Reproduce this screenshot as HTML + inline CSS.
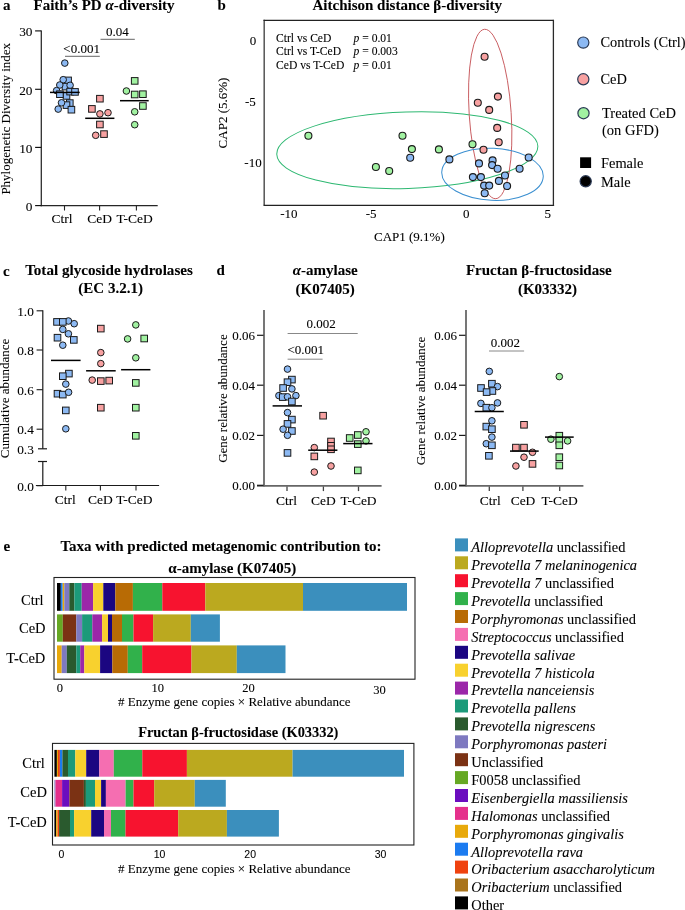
<!DOCTYPE html>
<html><head><meta charset="utf-8"><style>
html,body{margin:0;padding:0;background:#fff;width:685px;height:910px;overflow:hidden}
svg{display:block;will-change:transform}
text{fill:#000;stroke:#000;stroke-width:0.08px}
</style></head><body>
<svg width="685" height="910" viewBox="0 0 685 910">
<rect width="685" height="910" fill="#fff"/>
<text x="3" y="10.4" font-size="15" text-anchor="start" font-weight="bold" font-style="normal" font-family='"Liberation Serif", serif' >a</text>
<text x="33.5" y="10.4" font-size="15" text-anchor="start" font-weight="bold" font-style="normal" font-family='"Liberation Serif", serif' >Faith’s PD <tspan font-style="italic">α</tspan>-diversity</text>
<line x1="41.3" y1="30.4" x2="41.3" y2="206.2" stroke="#262626" stroke-width="1.25"/>
<line x1="40.699999999999996" y1="205.6" x2="157.7" y2="205.6" stroke="#262626" stroke-width="1.25"/>
<line x1="35.1" y1="30.9" x2="41.3" y2="30.9" stroke="#111" stroke-width="1.15"/>
<text x="32.5" y="36.199999999999996" font-size="13.3" text-anchor="end" font-weight="normal" font-style="normal" font-family='"Liberation Serif", serif' >30</text>
<line x1="35.1" y1="89.3" x2="41.3" y2="89.3" stroke="#111" stroke-width="1.15"/>
<text x="32.5" y="94.6" font-size="13.3" text-anchor="end" font-weight="normal" font-style="normal" font-family='"Liberation Serif", serif' >20</text>
<line x1="35.1" y1="147.4" x2="41.3" y2="147.4" stroke="#111" stroke-width="1.15"/>
<text x="32.5" y="152.70000000000002" font-size="13.3" text-anchor="end" font-weight="normal" font-style="normal" font-family='"Liberation Serif", serif' >10</text>
<line x1="35.1" y1="205.6" x2="41.3" y2="205.6" stroke="#111" stroke-width="1.15"/>
<text x="32.5" y="210.9" font-size="13.3" text-anchor="end" font-weight="normal" font-style="normal" font-family='"Liberation Serif", serif' >0</text>
<line x1="64.5" y1="205.6" x2="64.5" y2="210.5" stroke="#222" stroke-width="1.1"/>
<line x1="99.6" y1="205.6" x2="99.6" y2="210.5" stroke="#222" stroke-width="1.1"/>
<line x1="136.4" y1="205.6" x2="136.4" y2="210.5" stroke="#222" stroke-width="1.1"/>
<text x="61.9" y="223.3" font-size="13.5" text-anchor="middle" font-weight="normal" font-style="normal" font-family='"Liberation Serif", serif' >Ctrl</text>
<text x="99.6" y="223.3" font-size="13.5" text-anchor="middle" font-weight="normal" font-style="normal" font-family='"Liberation Serif", serif' >CeD</text>
<text x="134.6" y="223.3" font-size="13.5" text-anchor="middle" font-weight="normal" font-style="normal" font-family='"Liberation Serif", serif' >T-CeD</text>
<text x="0" y="0" font-size="13" text-anchor="middle" font-weight="normal" font-style="normal" font-family='"Liberation Serif", serif' transform="translate(10.2,118.8) rotate(-90)">Phylogenetic Diversity index</text>
<line x1="65" y1="56.3" x2="99.8" y2="56.3" stroke="#666" stroke-width="1"/>
<text x="81.6" y="52.6" font-size="13" text-anchor="middle" font-weight="normal" font-style="normal" font-family='"Liberation Serif", serif' >&lt;0.001</text>
<line x1="100.5" y1="39.3" x2="134.8" y2="39.3" stroke="#666" stroke-width="1"/>
<text x="117.4" y="35.7" font-size="13" text-anchor="middle" font-weight="normal" font-style="normal" font-family='"Liberation Serif", serif' >0.04</text>
<rect x="64.80" y="77.10" width="6.6" height="6.6" fill="#8cb9f3" stroke="#1a1a1a" stroke-width="1.0"/>
<rect x="62.20" y="83.30" width="6.6" height="6.6" fill="#8cb9f3" stroke="#1a1a1a" stroke-width="1.0"/>
<rect x="63.20" y="92.60" width="6.6" height="6.6" fill="#8cb9f3" stroke="#1a1a1a" stroke-width="1.0"/>
<rect x="66.50" y="99.80" width="6.6" height="6.6" fill="#8cb9f3" stroke="#1a1a1a" stroke-width="1.0"/>
<rect x="63.20" y="101.80" width="6.6" height="6.6" fill="#8cb9f3" stroke="#1a1a1a" stroke-width="1.0"/>
<circle cx="64.8" cy="63.1" r="3.3" fill="#8cb9f3" stroke="#1a1a1a" stroke-width="1.0"/>
<circle cx="63.2" cy="79.7" r="3.3" fill="#8cb9f3" stroke="#1a1a1a" stroke-width="1.0"/>
<circle cx="59.8" cy="85.0" r="3.3" fill="#8cb9f3" stroke="#1a1a1a" stroke-width="1.0"/>
<circle cx="70.1" cy="85.3" r="3.3" fill="#8cb9f3" stroke="#1a1a1a" stroke-width="1.0"/>
<circle cx="56.6" cy="90.6" r="3.3" fill="#8cb9f3" stroke="#1a1a1a" stroke-width="1.0"/>
<rect x="56.60" y="90.90" width="6.6" height="6.6" fill="#8cb9f3" stroke="#1a1a1a" stroke-width="1.0"/>
<rect x="66.80" y="88.30" width="6.6" height="6.6" fill="#8cb9f3" stroke="#1a1a1a" stroke-width="1.0"/>
<rect x="71.70" y="88.60" width="6.6" height="6.6" fill="#8cb9f3" stroke="#1a1a1a" stroke-width="1.0"/>
<circle cx="61.5" cy="102.8" r="3.3" fill="#8cb9f3" stroke="#1a1a1a" stroke-width="1.0"/>
<circle cx="58.2" cy="109.1" r="3.3" fill="#8cb9f3" stroke="#1a1a1a" stroke-width="1.0"/>
<rect x="68.10" y="106.40" width="6.6" height="6.6" fill="#8cb9f3" stroke="#1a1a1a" stroke-width="1.0"/>
<line x1="50" y1="92.4" x2="79.7" y2="92.4" stroke="#000" stroke-width="1.5"/>
<rect x="96.60" y="95.40" width="6.6" height="6.6" fill="#f7a1a1" stroke="#1a1a1a" stroke-width="1.0"/>
<rect x="88.60" y="105.60" width="6.6" height="6.6" fill="#f7a1a1" stroke="#1a1a1a" stroke-width="1.0"/>
<circle cx="99.9" cy="113.9" r="3.3" fill="#f7a1a1" stroke="#1a1a1a" stroke-width="1.0"/>
<circle cx="108.0" cy="112.7" r="3.3" fill="#f7a1a1" stroke="#1a1a1a" stroke-width="1.0"/>
<rect x="96.60" y="121.20" width="6.6" height="6.6" fill="#f7a1a1" stroke="#1a1a1a" stroke-width="1.0"/>
<circle cx="95.7" cy="135.3" r="3.3" fill="#f7a1a1" stroke="#1a1a1a" stroke-width="1.0"/>
<rect x="100.70" y="130.80" width="6.6" height="6.6" fill="#f7a1a1" stroke="#1a1a1a" stroke-width="1.0"/>
<line x1="85.2" y1="118.3" x2="114.4" y2="118.3" stroke="#000" stroke-width="1.5"/>
<rect x="131.40" y="77.60" width="6.6" height="6.6" fill="#a1f2a1" stroke="#1a1a1a" stroke-width="1.0"/>
<circle cx="126.4" cy="91.0" r="3.3" fill="#a1f2a1" stroke="#1a1a1a" stroke-width="1.0"/>
<rect x="131.40" y="91.20" width="6.6" height="6.6" fill="#a1f2a1" stroke="#1a1a1a" stroke-width="1.0"/>
<rect x="139.60" y="90.90" width="6.6" height="6.6" fill="#a1f2a1" stroke="#1a1a1a" stroke-width="1.0"/>
<rect x="139.60" y="102.70" width="6.6" height="6.6" fill="#a1f2a1" stroke="#1a1a1a" stroke-width="1.0"/>
<circle cx="134.7" cy="111.8" r="3.3" fill="#a1f2a1" stroke="#1a1a1a" stroke-width="1.0"/>
<circle cx="134.7" cy="124.7" r="3.3" fill="#a1f2a1" stroke="#1a1a1a" stroke-width="1.0"/>
<line x1="120" y1="100.7" x2="148.7" y2="100.7" stroke="#000" stroke-width="1.5"/>
<text x="217.4" y="10.2" font-size="15" text-anchor="start" font-weight="bold" font-style="normal" font-family='"Liberation Serif", serif' >b</text>
<text x="312.5" y="10.2" font-size="15" text-anchor="start" font-weight="bold" font-style="normal" font-family='"Liberation Serif", serif' >Aitchison distance <tspan>β</tspan>-diversity</text>
<rect x="264" y="20.2" width="289.5" height="85" fill="none" stroke="#222" stroke-width="1.1" style="display:none"/>
<line x1="264.2" y1="19.8" x2="264.2" y2="205.3" stroke="#555" stroke-width="1.5"/>
<line x1="263.5" y1="205.3" x2="554.1" y2="205.3" stroke="#222" stroke-width="1.3"/>
<line x1="263.5" y1="20.4" x2="553.7" y2="20.4" stroke="#222" stroke-width="1.2"/>
<line x1="553.4" y1="19.8" x2="553.4" y2="205.9" stroke="#2a2a2a" stroke-width="1.3"/>
<text x="276" y="41.5" font-size="11.6" text-anchor="start" font-weight="normal" font-style="normal" font-family='"Liberation Serif", serif' >Ctrl vs CeD</text>
<text x="276" y="55.2" font-size="11.6" text-anchor="start" font-weight="normal" font-style="normal" font-family='"Liberation Serif", serif' >Ctrl vs T-CeD</text>
<text x="276" y="68.8" font-size="11.6" text-anchor="start" font-weight="normal" font-style="normal" font-family='"Liberation Serif", serif' >CeD vs T-CeD</text>
<text x="353.5" y="41.5" font-size="11.6" text-anchor="start" font-weight="normal" font-style="normal" font-family='"Liberation Serif", serif' ><tspan font-style="italic">p</tspan> = 0.01</text>
<text x="353.5" y="55.2" font-size="11.6" text-anchor="start" font-weight="normal" font-style="normal" font-family='"Liberation Serif", serif' ><tspan font-style="italic">p</tspan> = 0.003</text>
<text x="353.5" y="68.8" font-size="11.6" text-anchor="start" font-weight="normal" font-style="normal" font-family='"Liberation Serif", serif' ><tspan font-style="italic">p</tspan> = 0.01</text>
<text x="253" y="45.099999999999994" font-size="13" text-anchor="middle" font-weight="normal" font-style="normal" font-family='"Liberation Serif", serif' >0</text>
<text x="250.3" y="105.7" font-size="13" text-anchor="middle" font-weight="normal" font-style="normal" font-family='"Liberation Serif", serif' >-5</text>
<text x="253" y="167.3" font-size="13" text-anchor="middle" font-weight="normal" font-style="normal" font-family='"Liberation Serif", serif' >-10</text>
<text x="288.8" y="218.4" font-size="13" text-anchor="middle" font-weight="normal" font-style="normal" font-family='"Liberation Serif", serif' >-10</text>
<text x="371.2" y="218.4" font-size="13" text-anchor="middle" font-weight="normal" font-style="normal" font-family='"Liberation Serif", serif' >-5</text>
<text x="466.2" y="218.4" font-size="13" text-anchor="middle" font-weight="normal" font-style="normal" font-family='"Liberation Serif", serif' >0</text>
<text x="547.7" y="218.4" font-size="13" text-anchor="middle" font-weight="normal" font-style="normal" font-family='"Liberation Serif", serif' >5</text>
<text x="409.4" y="240.5" font-size="13" text-anchor="middle" font-weight="normal" font-style="normal" font-family='"Liberation Serif", serif' >CAP1 (9.1%)</text>
<text x="0" y="0" font-size="13" text-anchor="middle" font-weight="normal" font-style="normal" font-family='"Liberation Serif", serif' transform="translate(226.9,113) rotate(-90)">CAP2 (5.6%)</text>
<ellipse cx="407.3" cy="150.2" rx="130.6" ry="38.2" transform="rotate(-1.8 407.3 150.2)" fill="none" stroke="#2eb872" stroke-width="1"/>
<ellipse cx="490.2" cy="114" rx="21" ry="84.9" transform="rotate(-3.8 490.2 114)" fill="none" stroke="#c85a5e" stroke-width="0.95"/>
<ellipse cx="492.5" cy="174.3" rx="50.8" ry="26" transform="rotate(2.6 492.5 174.3)" fill="none" stroke="#3a8fd0" stroke-width="1"/>
<circle cx="308.4" cy="135.7" r="3.5" fill="#a1f2a1" stroke="#1a1a1a" stroke-width="1.1"/>
<circle cx="402.5" cy="135.7" r="3.5" fill="#a1f2a1" stroke="#1a1a1a" stroke-width="1.1"/>
<circle cx="411.9" cy="149.1" r="3.5" fill="#a1f2a1" stroke="#1a1a1a" stroke-width="1.1"/>
<circle cx="375.9" cy="167.0" r="3.5" fill="#a1f2a1" stroke="#1a1a1a" stroke-width="1.1"/>
<circle cx="389.2" cy="171.0" r="3.5" fill="#a1f2a1" stroke="#1a1a1a" stroke-width="1.1"/>
<circle cx="438.9" cy="149.4" r="3.5" fill="#a1f2a1" stroke="#1a1a1a" stroke-width="1.1"/>
<circle cx="472.5" cy="144.2" r="3.5" fill="#a1f2a1" stroke="#1a1a1a" stroke-width="1.1"/>
<circle cx="484.6" cy="56.7" r="3.5" fill="#f7a1a1" stroke="#1a1a1a" stroke-width="1.1"/>
<circle cx="497.9" cy="96.6" r="3.5" fill="#f7a1a1" stroke="#1a1a1a" stroke-width="1.1"/>
<circle cx="477.8" cy="102.7" r="3.5" fill="#f7a1a1" stroke="#1a1a1a" stroke-width="1.1"/>
<circle cx="489.2" cy="109.9" r="3.5" fill="#f7a1a1" stroke="#1a1a1a" stroke-width="1.1"/>
<circle cx="497.2" cy="127.9" r="3.5" fill="#f7a1a1" stroke="#1a1a1a" stroke-width="1.1"/>
<circle cx="498.7" cy="142.3" r="3.5" fill="#f7a1a1" stroke="#1a1a1a" stroke-width="1.1"/>
<circle cx="483.5" cy="149.7" r="3.5" fill="#f7a1a1" stroke="#1a1a1a" stroke-width="1.1"/>
<circle cx="410.2" cy="157.7" r="3.5" fill="#8cb9f3" stroke="#1a1a1a" stroke-width="1.1"/>
<circle cx="449.4" cy="159.4" r="3.5" fill="#8cb9f3" stroke="#1a1a1a" stroke-width="1.1"/>
<circle cx="479.0" cy="163.4" r="3.5" fill="#8cb9f3" stroke="#1a1a1a" stroke-width="1.1"/>
<circle cx="492.6" cy="160.4" r="3.5" fill="#8cb9f3" stroke="#1a1a1a" stroke-width="1.1"/>
<circle cx="492.1" cy="165.1" r="3.5" fill="#8cb9f3" stroke="#1a1a1a" stroke-width="1.1"/>
<circle cx="497.6" cy="168.7" r="3.5" fill="#8cb9f3" stroke="#1a1a1a" stroke-width="1.1"/>
<circle cx="519.6" cy="168.7" r="3.5" fill="#8cb9f3" stroke="#1a1a1a" stroke-width="1.1"/>
<circle cx="528.7" cy="157.5" r="3.5" fill="#8cb9f3" stroke="#1a1a1a" stroke-width="1.1"/>
<circle cx="472.9" cy="177.1" r="3.5" fill="#8cb9f3" stroke="#1a1a1a" stroke-width="1.1"/>
<circle cx="480.9" cy="177.1" r="3.5" fill="#8cb9f3" stroke="#1a1a1a" stroke-width="1.1"/>
<circle cx="505.0" cy="175.5" r="3.5" fill="#8cb9f3" stroke="#1a1a1a" stroke-width="1.1"/>
<circle cx="498.9" cy="180.9" r="3.5" fill="#8cb9f3" stroke="#1a1a1a" stroke-width="1.1"/>
<circle cx="484.1" cy="185.6" r="3.5" fill="#8cb9f3" stroke="#1a1a1a" stroke-width="1.1"/>
<circle cx="489.2" cy="185.6" r="3.5" fill="#8cb9f3" stroke="#1a1a1a" stroke-width="1.1"/>
<circle cx="507.1" cy="186.0" r="3.5" fill="#8cb9f3" stroke="#1a1a1a" stroke-width="1.1"/>
<circle cx="484.7" cy="193.2" r="3.5" fill="#8cb9f3" stroke="#1a1a1a" stroke-width="1.1"/>
<circle cx="583.3" cy="42.6" r="5.6" fill="#8cb9f3" stroke="#2b3a55" stroke-width="1.2"/>
<circle cx="583.3" cy="79.3" r="5.6" fill="#f7a1a1" stroke="#2b3a55" stroke-width="1.2"/>
<circle cx="583.5" cy="113.2" r="5.6" fill="#a1f2a1" stroke="#2b3a55" stroke-width="1.2"/>
<text x="600.5" y="47.1" font-size="14.4" text-anchor="start" font-weight="normal" font-style="normal" font-family='"Liberation Serif", serif' >Controls (Ctrl)</text>
<text x="600.5" y="83.9" font-size="14.4" text-anchor="start" font-weight="normal" font-style="normal" font-family='"Liberation Serif", serif' >CeD</text>
<text x="602" y="118" font-size="14.5" text-anchor="start" font-weight="normal" font-style="normal" font-family='"Liberation Serif", serif' >Treated CeD</text>
<text x="602" y="135.2" font-size="14.5" text-anchor="start" font-weight="normal" font-style="normal" font-family='"Liberation Serif", serif' >(on GFD)</text>
<rect x="580.1" y="157.3" width="11" height="10.7" fill="#000"/>
<circle cx="585.7" cy="181.3" r="5.6" fill="#000" stroke="#2b3a55" stroke-width="1.2"/>
<text x="601" y="168.4" font-size="14.4" text-anchor="start" font-weight="normal" font-style="normal" font-family='"Liberation Serif", serif' >Female</text>
<text x="601" y="186.6" font-size="14.4" text-anchor="start" font-weight="normal" font-style="normal" font-family='"Liberation Serif", serif' >Male</text>
<text x="3" y="275.7" font-size="15" text-anchor="start" font-weight="bold" font-style="normal" font-family='"Liberation Serif", serif' >c</text>
<text x="109.0" y="275.3" font-size="15.1" text-anchor="middle" font-weight="bold" font-style="normal" font-family='"Liberation Serif", serif' >Total glycoside hydrolases</text>
<text x="110.6" y="293.2" font-size="15" text-anchor="middle" font-weight="bold" font-style="normal" font-family='"Liberation Serif", serif' >(EC 3.2.1)</text>
<line x1="42.8" y1="310.3" x2="42.8" y2="448.8" stroke="#1a1a1a" stroke-width="1.2"/>
<line x1="42.8" y1="461.5" x2="42.8" y2="485.7" stroke="#1a1a1a" stroke-width="1.2"/>
<line x1="35.9" y1="485.5" x2="159.1" y2="485.5" stroke="#1a1a1a" stroke-width="1.2"/>
<line x1="38" y1="448.8" x2="47" y2="448.8" stroke="#1a1a1a" stroke-width="1.2"/>
<line x1="38" y1="461.5" x2="47" y2="461.5" stroke="#1a1a1a" stroke-width="1.2"/>
<line x1="36.6" y1="310.8" x2="42.8" y2="310.8" stroke="#1a1a1a" stroke-width="1.1"/>
<text x="33.8" y="315.8" font-size="13.3" text-anchor="end" font-weight="normal" font-style="normal" font-family='"Liberation Serif", serif' >1.0</text>
<line x1="36.6" y1="350.0" x2="42.8" y2="350.0" stroke="#1a1a1a" stroke-width="1.1"/>
<text x="33.8" y="355.0" font-size="13.3" text-anchor="end" font-weight="normal" font-style="normal" font-family='"Liberation Serif", serif' >0.8</text>
<line x1="36.6" y1="389.7" x2="42.8" y2="389.7" stroke="#1a1a1a" stroke-width="1.1"/>
<text x="33.8" y="394.7" font-size="13.3" text-anchor="end" font-weight="normal" font-style="normal" font-family='"Liberation Serif", serif' >0.6</text>
<line x1="36.6" y1="429.2" x2="42.8" y2="429.2" stroke="#1a1a1a" stroke-width="1.1"/>
<text x="33.8" y="434.2" font-size="13.3" text-anchor="end" font-weight="normal" font-style="normal" font-family='"Liberation Serif", serif' >0.4</text>
<text x="33.8" y="453.8" font-size="13.3" text-anchor="end" font-weight="normal" font-style="normal" font-family='"Liberation Serif", serif' >0.3</text>
<line x1="36.6" y1="485.7" x2="42.8" y2="485.7" stroke="#1a1a1a" stroke-width="1.1"/>
<text x="33.8" y="490.7" font-size="13.3" text-anchor="end" font-weight="normal" font-style="normal" font-family='"Liberation Serif", serif' >0.0</text>
<line x1="65.8" y1="485.7" x2="65.8" y2="490.5" stroke="#222" stroke-width="1.1"/>
<line x1="100.4" y1="485.7" x2="100.4" y2="490.5" stroke="#222" stroke-width="1.1"/>
<line x1="136.0" y1="485.7" x2="136.0" y2="490.5" stroke="#222" stroke-width="1.1"/>
<text x="65.2" y="504.3" font-size="13.5" text-anchor="middle" font-weight="normal" font-style="normal" font-family='"Liberation Serif", serif' >Ctrl</text>
<text x="100.3" y="504.3" font-size="13.5" text-anchor="middle" font-weight="normal" font-style="normal" font-family='"Liberation Serif", serif' >CeD</text>
<text x="134.4" y="504.3" font-size="13.5" text-anchor="middle" font-weight="normal" font-style="normal" font-family='"Liberation Serif", serif' >T-CeD</text>
<text x="0" y="0" font-size="13" text-anchor="middle" font-weight="normal" font-style="normal" font-family='"Liberation Serif", serif' transform="translate(9.3,398.4) rotate(-90)">Cumulative abundance</text>
<circle cx="68.4" cy="321.0" r="3.3" fill="#8cb9f3" stroke="#1a1a1a" stroke-width="1.0"/>
<rect x="53.70" y="318.60" width="6.6" height="6.6" fill="#8cb9f3" stroke="#1a1a1a" stroke-width="1.0"/>
<rect x="59.50" y="318.60" width="6.6" height="6.6" fill="#8cb9f3" stroke="#1a1a1a" stroke-width="1.0"/>
<circle cx="74.2" cy="323.7" r="3.3" fill="#8cb9f3" stroke="#1a1a1a" stroke-width="1.0"/>
<circle cx="62.8" cy="329.4" r="3.3" fill="#8cb9f3" stroke="#1a1a1a" stroke-width="1.0"/>
<circle cx="68.4" cy="333.8" r="3.3" fill="#8cb9f3" stroke="#1a1a1a" stroke-width="1.0"/>
<rect x="54.20" y="334.40" width="6.6" height="6.6" fill="#8cb9f3" stroke="#1a1a1a" stroke-width="1.0"/>
<rect x="70.50" y="336.60" width="6.6" height="6.6" fill="#8cb9f3" stroke="#1a1a1a" stroke-width="1.0"/>
<circle cx="62.8" cy="345.2" r="3.3" fill="#8cb9f3" stroke="#1a1a1a" stroke-width="1.0"/>
<rect x="65.60" y="370.30" width="6.6" height="6.6" fill="#8cb9f3" stroke="#1a1a1a" stroke-width="1.0"/>
<rect x="59.50" y="372.90" width="6.6" height="6.6" fill="#8cb9f3" stroke="#1a1a1a" stroke-width="1.0"/>
<circle cx="65.8" cy="384.1" r="3.3" fill="#8cb9f3" stroke="#1a1a1a" stroke-width="1.0"/>
<rect x="54.20" y="390.40" width="6.6" height="6.6" fill="#8cb9f3" stroke="#1a1a1a" stroke-width="1.0"/>
<rect x="59.50" y="391.30" width="6.6" height="6.6" fill="#8cb9f3" stroke="#1a1a1a" stroke-width="1.0"/>
<circle cx="68.6" cy="392.3" r="3.3" fill="#8cb9f3" stroke="#1a1a1a" stroke-width="1.0"/>
<rect x="62.50" y="407.10" width="6.6" height="6.6" fill="#8cb9f3" stroke="#1a1a1a" stroke-width="1.0"/>
<circle cx="65.8" cy="428.8" r="3.3" fill="#8cb9f3" stroke="#1a1a1a" stroke-width="1.0"/>
<line x1="51" y1="360.4" x2="80.6" y2="360.4" stroke="#000" stroke-width="1.5"/>
<rect x="97.50" y="325.30" width="6.6" height="6.6" fill="#f7a1a1" stroke="#1a1a1a" stroke-width="1.0"/>
<circle cx="100.8" cy="352.6" r="3.3" fill="#f7a1a1" stroke="#1a1a1a" stroke-width="1.0"/>
<circle cx="100.8" cy="363.6" r="3.3" fill="#f7a1a1" stroke="#1a1a1a" stroke-width="1.0"/>
<circle cx="92.2" cy="380.1" r="3.3" fill="#f7a1a1" stroke="#1a1a1a" stroke-width="1.0"/>
<rect x="97.50" y="377.80" width="6.6" height="6.6" fill="#f7a1a1" stroke="#1a1a1a" stroke-width="1.0"/>
<rect x="105.90" y="377.30" width="6.6" height="6.6" fill="#f7a1a1" stroke="#1a1a1a" stroke-width="1.0"/>
<rect x="97.50" y="404.40" width="6.6" height="6.6" fill="#f7a1a1" stroke="#1a1a1a" stroke-width="1.0"/>
<line x1="86.1" y1="370.8" x2="115.7" y2="370.8" stroke="#000" stroke-width="1.5"/>
<circle cx="135.8" cy="324.9" r="3.3" fill="#a1f2a1" stroke="#1a1a1a" stroke-width="1.0"/>
<circle cx="127.6" cy="338.9" r="3.3" fill="#a1f2a1" stroke="#1a1a1a" stroke-width="1.0"/>
<rect x="140.90" y="335.20" width="6.6" height="6.6" fill="#a1f2a1" stroke="#1a1a1a" stroke-width="1.0"/>
<circle cx="135.8" cy="357.8" r="3.3" fill="#a1f2a1" stroke="#1a1a1a" stroke-width="1.0"/>
<rect x="132.50" y="379.60" width="6.6" height="6.6" fill="#a1f2a1" stroke="#1a1a1a" stroke-width="1.0"/>
<rect x="132.50" y="404.40" width="6.6" height="6.6" fill="#a1f2a1" stroke="#1a1a1a" stroke-width="1.0"/>
<rect x="132.50" y="432.50" width="6.6" height="6.6" fill="#a1f2a1" stroke="#1a1a1a" stroke-width="1.0"/>
<line x1="121.1" y1="369.7" x2="150.4" y2="369.7" stroke="#000" stroke-width="1.5"/>
<text x="216.5" y="274.8" font-size="15" text-anchor="start" font-weight="bold" font-style="normal" font-family='"Liberation Serif", serif' >d</text>
<line x1="264.0" y1="309.9" x2="264.0" y2="486.5" stroke="#707070" stroke-width="1.9"/>
<line x1="257.0" y1="485.9" x2="381.6" y2="485.9" stroke="#666" stroke-width="1.6"/>
<line x1="257.0" y1="335.3" x2="263.5" y2="335.3" stroke="#1a1a1a" stroke-width="1.2"/>
<text x="255.0" y="339.90000000000003" font-size="13" text-anchor="end" font-weight="normal" font-style="normal" font-family='"Liberation Serif", serif' >0.06</text>
<line x1="257.0" y1="385.2" x2="263.5" y2="385.2" stroke="#1a1a1a" stroke-width="1.2"/>
<text x="255.0" y="389.8" font-size="13" text-anchor="end" font-weight="normal" font-style="normal" font-family='"Liberation Serif", serif' >0.04</text>
<line x1="257.0" y1="435.4" x2="263.5" y2="435.4" stroke="#1a1a1a" stroke-width="1.2"/>
<text x="255.0" y="440.0" font-size="13" text-anchor="end" font-weight="normal" font-style="normal" font-family='"Liberation Serif", serif' >0.02</text>
<line x1="257.0" y1="485.3" x2="263.5" y2="485.3" stroke="#1a1a1a" stroke-width="1.2"/>
<text x="255.0" y="489.90000000000003" font-size="13" text-anchor="end" font-weight="normal" font-style="normal" font-family='"Liberation Serif", serif' >0.00</text>
<line x1="287.0" y1="486.5" x2="287.0" y2="491.1" stroke="#444" stroke-width="1.3"/>
<line x1="323.4" y1="486.5" x2="323.4" y2="491.1" stroke="#444" stroke-width="1.3"/>
<line x1="358.5" y1="486.5" x2="358.5" y2="491.1" stroke="#444" stroke-width="1.3"/>
<text x="286.6" y="504.5" font-size="13.5" text-anchor="middle" font-weight="normal" font-style="normal" font-family='"Liberation Serif", serif' >Ctrl</text>
<text x="323.3" y="504.5" font-size="13.5" text-anchor="middle" font-weight="normal" font-style="normal" font-family='"Liberation Serif", serif' >CeD</text>
<text x="358.5" y="504.5" font-size="13.5" text-anchor="middle" font-weight="normal" font-style="normal" font-family='"Liberation Serif", serif' >T-CeD</text>
<text x="0" y="0" font-size="13" text-anchor="middle" font-weight="normal" font-style="normal" font-family='"Liberation Serif", serif' transform="translate(226.5,398.6) rotate(-90)">Gene relative abundance</text>
<text x="325.2" y="274.8" font-size="15" text-anchor="middle" font-weight="bold" font-style="normal" font-family='"Liberation Serif", serif' ><tspan font-style="italic">α</tspan>-amylase</text>
<text x="325.2" y="293.8" font-size="15" text-anchor="middle" font-weight="bold" font-style="normal" font-family='"Liberation Serif", serif' >(K07405)</text>
<line x1="287.6" y1="333.5" x2="357.7" y2="333.5" stroke="#888" stroke-width="1"/>
<text x="321.2" y="328.2" font-size="13" text-anchor="middle" font-weight="normal" font-style="normal" font-family='"Liberation Serif", serif' >0.002</text>
<line x1="287.6" y1="359.2" x2="322.6" y2="359.2" stroke="#888" stroke-width="1"/>
<text x="305.8" y="353.6" font-size="13" text-anchor="middle" font-weight="normal" font-style="normal" font-family='"Liberation Serif", serif' >&lt;0.001</text>
<circle cx="287.5" cy="369.1" r="3.3" fill="#8cb9f3" stroke="#1a1a1a" stroke-width="1.0"/>
<rect x="288.60" y="376.30" width="6.6" height="6.6" fill="#8cb9f3" stroke="#1a1a1a" stroke-width="1.0"/>
<rect x="284.20" y="378.90" width="6.6" height="6.6" fill="#8cb9f3" stroke="#1a1a1a" stroke-width="1.0"/>
<rect x="279.80" y="384.70" width="6.6" height="6.6" fill="#8cb9f3" stroke="#1a1a1a" stroke-width="1.0"/>
<circle cx="291.9" cy="388.9" r="3.3" fill="#8cb9f3" stroke="#1a1a1a" stroke-width="1.0"/>
<circle cx="278.9" cy="395.6" r="3.3" fill="#8cb9f3" stroke="#1a1a1a" stroke-width="1.0"/>
<rect x="279.50" y="393.80" width="6.6" height="6.6" fill="#8cb9f3" stroke="#1a1a1a" stroke-width="1.0"/>
<circle cx="287.5" cy="396.8" r="3.3" fill="#8cb9f3" stroke="#1a1a1a" stroke-width="1.0"/>
<circle cx="295.9" cy="395.6" r="3.3" fill="#8cb9f3" stroke="#1a1a1a" stroke-width="1.0"/>
<rect x="288.60" y="398.20" width="6.6" height="6.6" fill="#8cb9f3" stroke="#1a1a1a" stroke-width="1.0"/>
<circle cx="287.5" cy="412.6" r="3.3" fill="#8cb9f3" stroke="#1a1a1a" stroke-width="1.0"/>
<rect x="288.60" y="416.30" width="6.6" height="6.6" fill="#8cb9f3" stroke="#1a1a1a" stroke-width="1.0"/>
<rect x="284.20" y="420.60" width="6.6" height="6.6" fill="#8cb9f3" stroke="#1a1a1a" stroke-width="1.0"/>
<circle cx="283.1" cy="429.2" r="3.3" fill="#8cb9f3" stroke="#1a1a1a" stroke-width="1.0"/>
<rect x="288.60" y="427.70" width="6.6" height="6.6" fill="#8cb9f3" stroke="#1a1a1a" stroke-width="1.0"/>
<circle cx="287.5" cy="435.3" r="3.3" fill="#8cb9f3" stroke="#1a1a1a" stroke-width="1.0"/>
<rect x="284.20" y="449.60" width="6.6" height="6.6" fill="#8cb9f3" stroke="#1a1a1a" stroke-width="1.0"/>
<line x1="272.6" y1="405.9" x2="302" y2="405.9" stroke="#000" stroke-width="1.5"/>
<rect x="319.80" y="412.40" width="6.6" height="6.6" fill="#f7a1a1" stroke="#1a1a1a" stroke-width="1.0"/>
<rect x="327.70" y="438.20" width="6.6" height="6.6" fill="#f7a1a1" stroke="#1a1a1a" stroke-width="1.0"/>
<rect x="327.70" y="442.50" width="6.6" height="6.6" fill="#f7a1a1" stroke="#1a1a1a" stroke-width="1.0"/>
<rect x="327.70" y="446.00" width="6.6" height="6.6" fill="#f7a1a1" stroke="#1a1a1a" stroke-width="1.0"/>
<circle cx="314.3" cy="447.6" r="3.3" fill="#f7a1a1" stroke="#1a1a1a" stroke-width="1.0"/>
<rect x="311.00" y="453.10" width="6.6" height="6.6" fill="#f7a1a1" stroke="#1a1a1a" stroke-width="1.0"/>
<circle cx="331.0" cy="466.0" r="3.3" fill="#f7a1a1" stroke="#1a1a1a" stroke-width="1.0"/>
<circle cx="314.3" cy="472.1" r="3.3" fill="#f7a1a1" stroke="#1a1a1a" stroke-width="1.0"/>
<line x1="308.2" y1="450.2" x2="337.4" y2="450.2" stroke="#000" stroke-width="1.5"/>
<rect x="346.40" y="434.70" width="6.6" height="6.6" fill="#a1f2a1" stroke="#1a1a1a" stroke-width="1.0"/>
<rect x="354.50" y="431.70" width="6.6" height="6.6" fill="#a1f2a1" stroke="#1a1a1a" stroke-width="1.0"/>
<circle cx="366.0" cy="431.8" r="3.3" fill="#a1f2a1" stroke="#1a1a1a" stroke-width="1.0"/>
<circle cx="366.0" cy="440.9" r="3.3" fill="#a1f2a1" stroke="#1a1a1a" stroke-width="1.0"/>
<rect x="354.50" y="440.80" width="6.6" height="6.6" fill="#a1f2a1" stroke="#1a1a1a" stroke-width="1.0"/>
<rect x="354.50" y="467.10" width="6.6" height="6.6" fill="#a1f2a1" stroke="#1a1a1a" stroke-width="1.0"/>
<line x1="343.2" y1="443.6" x2="372.5" y2="443.6" stroke="#000" stroke-width="1.5"/>
<line x1="466.0" y1="309.9" x2="466.0" y2="486.5" stroke="#707070" stroke-width="1.9"/>
<line x1="459.0" y1="485.9" x2="583.4" y2="485.9" stroke="#666" stroke-width="1.6"/>
<line x1="459.0" y1="335.3" x2="465.5" y2="335.3" stroke="#1a1a1a" stroke-width="1.2"/>
<text x="457.0" y="339.90000000000003" font-size="13" text-anchor="end" font-weight="normal" font-style="normal" font-family='"Liberation Serif", serif' >0.06</text>
<line x1="459.0" y1="385.2" x2="465.5" y2="385.2" stroke="#1a1a1a" stroke-width="1.2"/>
<text x="457.0" y="389.8" font-size="13" text-anchor="end" font-weight="normal" font-style="normal" font-family='"Liberation Serif", serif' >0.04</text>
<line x1="459.0" y1="435.4" x2="465.5" y2="435.4" stroke="#1a1a1a" stroke-width="1.2"/>
<text x="457.0" y="440.0" font-size="13" text-anchor="end" font-weight="normal" font-style="normal" font-family='"Liberation Serif", serif' >0.02</text>
<line x1="459.0" y1="485.3" x2="465.5" y2="485.3" stroke="#1a1a1a" stroke-width="1.2"/>
<text x="457.0" y="489.90000000000003" font-size="13" text-anchor="end" font-weight="normal" font-style="normal" font-family='"Liberation Serif", serif' >0.00</text>
<line x1="489.3" y1="486.5" x2="489.3" y2="491.1" stroke="#444" stroke-width="1.3"/>
<line x1="522.9" y1="486.5" x2="522.9" y2="491.1" stroke="#444" stroke-width="1.3"/>
<line x1="559.7" y1="486.5" x2="559.7" y2="491.1" stroke="#444" stroke-width="1.3"/>
<text x="490.2" y="504.5" font-size="13.5" text-anchor="middle" font-weight="normal" font-style="normal" font-family='"Liberation Serif", serif' >Ctrl</text>
<text x="523.0" y="504.5" font-size="13.5" text-anchor="middle" font-weight="normal" font-style="normal" font-family='"Liberation Serif", serif' >CeD</text>
<text x="559.6" y="504.5" font-size="13.5" text-anchor="middle" font-weight="normal" font-style="normal" font-family='"Liberation Serif", serif' >T-CeD</text>
<text x="0" y="0" font-size="13" text-anchor="middle" font-weight="normal" font-style="normal" font-family='"Liberation Serif", serif' transform="translate(424.5,401.0) rotate(-90)">Gene relative abundance</text>
<text x="538.8" y="274.8" font-size="15" text-anchor="middle" font-weight="bold" font-style="normal" font-family='"Liberation Serif", serif' >Fructan <tspan>β</tspan>-fructosidase</text>
<text x="547.5" y="293.8" font-size="15" text-anchor="middle" font-weight="bold" font-style="normal" font-family='"Liberation Serif", serif' >(K03332)</text>
<line x1="489.0" y1="351.0" x2="524.1" y2="351.0" stroke="#888" stroke-width="1"/>
<text x="505.4" y="347.2" font-size="13" text-anchor="middle" font-weight="normal" font-style="normal" font-family='"Liberation Serif", serif' >0.002</text>
<circle cx="489.3" cy="371.4" r="3.3" fill="#8cb9f3" stroke="#1a1a1a" stroke-width="1.0"/>
<rect x="488.60" y="380.40" width="6.6" height="6.6" fill="#8cb9f3" stroke="#1a1a1a" stroke-width="1.0"/>
<circle cx="497.5" cy="386.6" r="3.3" fill="#8cb9f3" stroke="#1a1a1a" stroke-width="1.0"/>
<rect x="477.70" y="384.70" width="6.6" height="6.6" fill="#8cb9f3" stroke="#1a1a1a" stroke-width="1.0"/>
<rect x="489.10" y="387.70" width="6.6" height="6.6" fill="#8cb9f3" stroke="#1a1a1a" stroke-width="1.0"/>
<rect x="483.30" y="388.80" width="6.6" height="6.6" fill="#8cb9f3" stroke="#1a1a1a" stroke-width="1.0"/>
<circle cx="480.9" cy="403.4" r="3.3" fill="#8cb9f3" stroke="#1a1a1a" stroke-width="1.0"/>
<circle cx="497.5" cy="402.9" r="3.3" fill="#8cb9f3" stroke="#1a1a1a" stroke-width="1.0"/>
<rect x="483.00" y="404.40" width="6.6" height="6.6" fill="#8cb9f3" stroke="#1a1a1a" stroke-width="1.0"/>
<circle cx="491.9" cy="407.7" r="3.3" fill="#8cb9f3" stroke="#1a1a1a" stroke-width="1.0"/>
<circle cx="491.9" cy="420.8" r="3.3" fill="#8cb9f3" stroke="#1a1a1a" stroke-width="1.0"/>
<rect x="483.00" y="423.30" width="6.6" height="6.6" fill="#8cb9f3" stroke="#1a1a1a" stroke-width="1.0"/>
<rect x="488.60" y="425.90" width="6.6" height="6.6" fill="#8cb9f3" stroke="#1a1a1a" stroke-width="1.0"/>
<circle cx="491.9" cy="437.1" r="3.3" fill="#8cb9f3" stroke="#1a1a1a" stroke-width="1.0"/>
<circle cx="486.3" cy="443.7" r="3.3" fill="#8cb9f3" stroke="#1a1a1a" stroke-width="1.0"/>
<rect x="488.60" y="442.00" width="6.6" height="6.6" fill="#8cb9f3" stroke="#1a1a1a" stroke-width="1.0"/>
<rect x="485.60" y="452.50" width="6.6" height="6.6" fill="#8cb9f3" stroke="#1a1a1a" stroke-width="1.0"/>
<line x1="474.7" y1="411.5" x2="503.8" y2="411.5" stroke="#000" stroke-width="1.5"/>
<rect x="520.70" y="421.50" width="6.6" height="6.6" fill="#f7a1a1" stroke="#1a1a1a" stroke-width="1.0"/>
<rect x="512.60" y="444.30" width="6.6" height="6.6" fill="#f7a1a1" stroke="#1a1a1a" stroke-width="1.0"/>
<rect x="520.70" y="444.30" width="6.6" height="6.6" fill="#f7a1a1" stroke="#1a1a1a" stroke-width="1.0"/>
<circle cx="532.5" cy="452.3" r="3.3" fill="#f7a1a1" stroke="#1a1a1a" stroke-width="1.0"/>
<circle cx="524.0" cy="457.2" r="3.3" fill="#f7a1a1" stroke="#1a1a1a" stroke-width="1.0"/>
<rect x="529.20" y="460.60" width="6.6" height="6.6" fill="#f7a1a1" stroke="#1a1a1a" stroke-width="1.0"/>
<circle cx="515.9" cy="466.0" r="3.3" fill="#f7a1a1" stroke="#1a1a1a" stroke-width="1.0"/>
<line x1="510" y1="451.1" x2="538.7" y2="451.1" stroke="#000" stroke-width="1.5"/>
<circle cx="559.3" cy="376.6" r="3.3" fill="#a1f2a1" stroke="#1a1a1a" stroke-width="1.0"/>
<rect x="556.00" y="432.40" width="6.6" height="6.6" fill="#a1f2a1" stroke="#1a1a1a" stroke-width="1.0"/>
<circle cx="550.9" cy="439.2" r="3.3" fill="#a1f2a1" stroke="#1a1a1a" stroke-width="1.0"/>
<circle cx="567.6" cy="440.9" r="3.3" fill="#a1f2a1" stroke="#1a1a1a" stroke-width="1.0"/>
<rect x="556.00" y="437.30" width="6.6" height="6.6" fill="#a1f2a1" stroke="#1a1a1a" stroke-width="1.0"/>
<rect x="556.00" y="442.00" width="6.6" height="6.6" fill="#a1f2a1" stroke="#1a1a1a" stroke-width="1.0"/>
<rect x="556.00" y="453.90" width="6.6" height="6.6" fill="#a1f2a1" stroke="#1a1a1a" stroke-width="1.0"/>
<rect x="556.00" y="462.20" width="6.6" height="6.6" fill="#a1f2a1" stroke="#1a1a1a" stroke-width="1.0"/>
<line x1="545" y1="437.1" x2="573.7" y2="437.1" stroke="#000" stroke-width="1.5"/>
<text x="3.5" y="551.0" font-size="15" text-anchor="start" font-weight="bold" font-style="normal" font-family='"Liberation Serif", serif' >e</text>
<text x="221.0" y="551.0" font-size="15" text-anchor="middle" font-weight="bold" font-style="normal" font-family='"Liberation Serif", serif' >Taxa with predicted metagenomic contribution to:</text>
<text x="232.3" y="573.3" font-size="15" text-anchor="middle" font-weight="bold" font-style="normal" font-family='"Liberation Serif", serif' >α-amylase (K07405)</text>
<rect x="57.00" y="583.0" width="3.80" height="27.80" fill="#000000"/>
<rect x="60.80" y="583.0" width="1.90" height="27.80" fill="#1b7bf0"/>
<rect x="62.70" y="583.0" width="1.60" height="27.80" fill="#e8a90b"/>
<rect x="64.30" y="583.0" width="5.00" height="27.80" fill="#7e79c0"/>
<rect x="69.30" y="583.0" width="5.10" height="27.80" fill="#2a5a2e"/>
<rect x="74.40" y="583.0" width="7.30" height="27.80" fill="#1c9a7a"/>
<rect x="81.70" y="583.0" width="11.40" height="27.80" fill="#9b27a9"/>
<rect x="93.10" y="583.0" width="10.20" height="27.80" fill="#f8d12e"/>
<rect x="103.30" y="583.0" width="12.00" height="27.80" fill="#1b0681"/>
<rect x="115.30" y="583.0" width="17.60" height="27.80" fill="#b86b05"/>
<rect x="132.90" y="583.0" width="29.40" height="27.80" fill="#31b14b"/>
<rect x="162.30" y="583.0" width="43.00" height="27.80" fill="#f7132f"/>
<rect x="205.30" y="583.0" width="97.70" height="27.80" fill="#bba91f"/>
<rect x="303.00" y="583.0" width="104.00" height="27.80" fill="#3b8fbd"/>
<rect x="57.00" y="614.4" width="5.80" height="27.30" fill="#66a824"/>
<rect x="62.80" y="614.4" width="13.50" height="27.30" fill="#7b3214"/>
<rect x="76.30" y="614.4" width="5.80" height="27.30" fill="#7e79c0"/>
<rect x="82.10" y="614.4" width="10.20" height="27.30" fill="#1c9a7a"/>
<rect x="92.30" y="614.4" width="9.80" height="27.30" fill="#9b27a9"/>
<rect x="102.10" y="614.4" width="5.90" height="27.30" fill="#f8d12e"/>
<rect x="108.00" y="614.4" width="4.00" height="27.30" fill="#1b0681"/>
<rect x="112.00" y="614.4" width="10.00" height="27.30" fill="#b86b05"/>
<rect x="122.00" y="614.4" width="11.50" height="27.30" fill="#31b14b"/>
<rect x="133.50" y="614.4" width="19.60" height="27.30" fill="#f7132f"/>
<rect x="153.10" y="614.4" width="37.70" height="27.30" fill="#bba91f"/>
<rect x="190.80" y="614.4" width="29.10" height="27.30" fill="#3b8fbd"/>
<rect x="57.00" y="645.4" width="4.70" height="27.70" fill="#e8a90b"/>
<rect x="61.70" y="645.4" width="5.10" height="27.70" fill="#7e79c0"/>
<rect x="66.80" y="645.4" width="9.50" height="27.70" fill="#2a5a2e"/>
<rect x="76.30" y="645.4" width="3.90" height="27.70" fill="#1c9a7a"/>
<rect x="80.20" y="645.4" width="4.10" height="27.70" fill="#9b27a9"/>
<rect x="84.30" y="645.4" width="15.80" height="27.70" fill="#f8d12e"/>
<rect x="100.10" y="645.4" width="12.20" height="27.70" fill="#1b0681"/>
<rect x="112.30" y="645.4" width="15.50" height="27.70" fill="#b86b05"/>
<rect x="127.80" y="645.4" width="14.40" height="27.70" fill="#31b14b"/>
<rect x="142.20" y="645.4" width="49.30" height="27.70" fill="#f7132f"/>
<rect x="191.50" y="645.4" width="45.30" height="27.70" fill="#bba91f"/>
<rect x="236.80" y="645.4" width="48.70" height="27.70" fill="#3b8fbd"/>
<rect x="54.0" y="577.5" width="361.0" height="101.70000000000005" fill="none" stroke="#222" stroke-width="1.1"/>
<text x="43.6" y="604.7" font-size="14.5" text-anchor="end" font-weight="normal" font-style="normal" font-family='"Liberation Serif", serif' >Ctrl</text>
<text x="45.6" y="632.5" font-size="14.5" text-anchor="end" font-weight="normal" font-style="normal" font-family='"Liberation Serif", serif' >CeD</text>
<text x="45.3" y="663" font-size="14.5" text-anchor="end" font-weight="normal" font-style="normal" font-family='"Liberation Serif", serif' >T-CeD</text>
<text x="59.8" y="692.2" font-size="12.5" text-anchor="middle" font-weight="normal" font-style="normal" font-family='"Liberation Serif", serif' >0</text>
<text x="157.8" y="692.2" font-size="12.5" text-anchor="middle" font-weight="normal" font-style="normal" font-family='"Liberation Serif", serif' >10</text>
<text x="248.6" y="692.1" font-size="12.5" text-anchor="middle" font-weight="normal" font-style="normal" font-family='"Liberation Serif", serif' >20</text>
<text x="379.6" y="694.2" font-size="12.5" text-anchor="middle" font-weight="normal" font-style="normal" font-family='"Liberation Serif", serif' >30</text>
<text x="234.3" y="705.6" font-size="13" text-anchor="middle" font-weight="normal" font-style="normal" font-family='"Liberation Serif", serif' ># Enzyme gene copies × Relative abundance</text>
<text x="138.2" y="737" font-size="14.4" text-anchor="start" font-weight="bold" font-style="normal" font-family='"Liberation Serif", serif' >Fructan β-fructosidase (K03332)</text>
<rect x="54.40" y="749.9" width="2.50" height="26.80" fill="#000000"/>
<rect x="56.90" y="749.9" width="1.10" height="26.80" fill="#e8a90b"/>
<rect x="58.00" y="749.9" width="1.90" height="26.80" fill="#ef420f"/>
<rect x="59.90" y="749.9" width="2.50" height="26.80" fill="#1b7bf0"/>
<rect x="62.40" y="749.9" width="5.60" height="26.80" fill="#2a5a2e"/>
<rect x="68.00" y="749.9" width="7.30" height="26.80" fill="#1c9a7a"/>
<rect x="75.30" y="749.9" width="10.90" height="26.80" fill="#f8d12e"/>
<rect x="86.20" y="749.9" width="13.10" height="26.80" fill="#1b0681"/>
<rect x="99.30" y="749.9" width="14.50" height="26.80" fill="#f56eb1"/>
<rect x="113.80" y="749.9" width="28.50" height="26.80" fill="#31b14b"/>
<rect x="142.30" y="749.9" width="44.60" height="26.80" fill="#f7132f"/>
<rect x="186.90" y="749.9" width="105.70" height="26.80" fill="#bba91f"/>
<rect x="292.60" y="749.9" width="111.40" height="26.80" fill="#3b8fbd"/>
<rect x="54.40" y="779.9" width="1.10" height="26.80" fill="#7e79c0"/>
<rect x="55.50" y="779.9" width="6.60" height="26.80" fill="#e5308c"/>
<rect x="62.10" y="779.9" width="7.30" height="26.80" fill="#6b0dbf"/>
<rect x="69.40" y="779.9" width="14.50" height="26.80" fill="#7b3214"/>
<rect x="83.90" y="779.9" width="2.00" height="26.80" fill="#2a5a2e"/>
<rect x="85.90" y="779.9" width="9.10" height="26.80" fill="#1c9a7a"/>
<rect x="95.00" y="779.9" width="6.10" height="26.80" fill="#f8d12e"/>
<rect x="101.10" y="779.9" width="4.80" height="26.80" fill="#1b0681"/>
<rect x="105.90" y="779.9" width="19.70" height="26.80" fill="#f56eb1"/>
<rect x="125.60" y="779.9" width="7.90" height="26.80" fill="#31b14b"/>
<rect x="133.50" y="779.9" width="20.70" height="26.80" fill="#f7132f"/>
<rect x="154.20" y="779.9" width="40.60" height="26.80" fill="#bba91f"/>
<rect x="194.80" y="779.9" width="31.00" height="26.80" fill="#3b8fbd"/>
<rect x="54.40" y="810.0" width="1.70" height="26.60" fill="#000000"/>
<rect x="56.10" y="810.0" width="1.50" height="26.60" fill="#e8a90b"/>
<rect x="57.60" y="810.0" width="1.50" height="26.60" fill="#ef420f"/>
<rect x="59.10" y="810.0" width="10.90" height="26.60" fill="#2a5a2e"/>
<rect x="70.00" y="810.0" width="4.10" height="26.60" fill="#1c9a7a"/>
<rect x="74.10" y="810.0" width="17.10" height="26.60" fill="#f8d12e"/>
<rect x="91.20" y="810.0" width="12.80" height="26.60" fill="#1b0681"/>
<rect x="104.00" y="810.0" width="7.00" height="26.60" fill="#f56eb1"/>
<rect x="111.00" y="810.0" width="14.50" height="26.60" fill="#31b14b"/>
<rect x="125.50" y="810.0" width="52.70" height="26.60" fill="#f7132f"/>
<rect x="178.20" y="810.0" width="48.70" height="26.60" fill="#bba91f"/>
<rect x="226.90" y="810.0" width="52.00" height="26.60" fill="#3b8fbd"/>
<rect x="52.5" y="743.4" width="361.4" height="101.60000000000002" fill="none" stroke="#222" stroke-width="1.1"/>
<text x="44.9" y="768.4" font-size="14.5" text-anchor="end" font-weight="normal" font-style="normal" font-family='"Liberation Serif", serif' >Ctrl</text>
<text x="46.9" y="796.6" font-size="14.5" text-anchor="end" font-weight="normal" font-style="normal" font-family='"Liberation Serif", serif' >CeD</text>
<text x="46.8" y="827.1" font-size="14.5" text-anchor="end" font-weight="normal" font-style="normal" font-family='"Liberation Serif", serif' >T-CeD</text>
<text x="61.3" y="857.9" font-size="10.5" text-anchor="middle" font-weight="normal" font-style="normal" font-family='"Liberation Sans", sans-serif' >0</text>
<text x="159.5" y="857.9" font-size="10.5" text-anchor="middle" font-weight="normal" font-style="normal" font-family='"Liberation Sans", sans-serif' >10</text>
<text x="250.2" y="857.9" font-size="10.5" text-anchor="middle" font-weight="normal" font-style="normal" font-family='"Liberation Sans", sans-serif' >20</text>
<text x="380.5" y="857.9" font-size="10.5" text-anchor="middle" font-weight="normal" font-style="normal" font-family='"Liberation Sans", sans-serif' >30</text>
<text x="234.3" y="872.6" font-size="13" text-anchor="middle" font-weight="normal" font-style="normal" font-family='"Liberation Serif", serif' ># Enzyme gene copies × Relative abundance</text>
<rect x="455" y="538.4" width="13" height="13" fill="#3b8fbd"/>
<text x="471.3" y="552.2" font-size="14.4" text-anchor="start" font-weight="normal" font-style="normal" font-family='"Liberation Serif", serif' ><tspan font-style="italic">Alloprevotella</tspan> unclassified</text>
<rect x="455" y="556.3" width="13" height="13" fill="#bba91f"/>
<text x="471.3" y="570.1" font-size="14.4" text-anchor="start" font-weight="normal" font-style="normal" font-family='"Liberation Serif", serif' ><tspan font-style="italic">Prevotella 7 melaninogenica</tspan></text>
<rect x="455" y="574.2" width="13" height="13" fill="#f7132f"/>
<text x="471.3" y="588.0" font-size="14.4" text-anchor="start" font-weight="normal" font-style="normal" font-family='"Liberation Serif", serif' ><tspan font-style="italic">Prevotella 7</tspan> unclassified</text>
<rect x="455" y="592.1" width="13" height="13" fill="#31b14b"/>
<text x="471.3" y="605.9" font-size="14.4" text-anchor="start" font-weight="normal" font-style="normal" font-family='"Liberation Serif", serif' ><tspan font-style="italic">Prevotella</tspan> unclassified</text>
<rect x="455" y="610.0" width="13" height="13" fill="#b86b05"/>
<text x="471.3" y="623.8" font-size="14.4" text-anchor="start" font-weight="normal" font-style="normal" font-family='"Liberation Serif", serif' ><tspan font-style="italic">Porphyromonas</tspan> unclassified</text>
<rect x="455" y="627.9" width="13" height="13" fill="#f56eb1"/>
<text x="471.3" y="641.7" font-size="14.4" text-anchor="start" font-weight="normal" font-style="normal" font-family='"Liberation Serif", serif' ><tspan font-style="italic">Streptococcus</tspan> unclassified</text>
<rect x="455" y="645.8" width="13" height="13" fill="#1b0681"/>
<text x="471.3" y="659.6" font-size="14.4" text-anchor="start" font-weight="normal" font-style="normal" font-family='"Liberation Serif", serif' ><tspan font-style="italic">Prevotella salivae</tspan></text>
<rect x="455" y="663.7" width="13" height="13" fill="#f8d12e"/>
<text x="471.3" y="677.5" font-size="14.4" text-anchor="start" font-weight="normal" font-style="normal" font-family='"Liberation Serif", serif' ><tspan font-style="italic">Prevotella 7 histicola</tspan></text>
<rect x="455" y="681.6" width="13" height="13" fill="#9b27a9"/>
<text x="471.3" y="695.4" font-size="14.4" text-anchor="start" font-weight="normal" font-style="normal" font-family='"Liberation Serif", serif' ><tspan font-style="italic">Prevtella nanceiensis</tspan></text>
<rect x="455" y="699.5" width="13" height="13" fill="#1c9a7a"/>
<text x="471.3" y="713.3" font-size="14.4" text-anchor="start" font-weight="normal" font-style="normal" font-family='"Liberation Serif", serif' ><tspan font-style="italic">Prevotella pallens</tspan></text>
<rect x="455" y="717.4" width="13" height="13" fill="#2a5a2e"/>
<text x="471.3" y="731.2" font-size="14.4" text-anchor="start" font-weight="normal" font-style="normal" font-family='"Liberation Serif", serif' ><tspan font-style="italic">Prevotella nigrescens</tspan></text>
<rect x="455" y="735.3" width="13" height="13" fill="#7e79c0"/>
<text x="471.3" y="749.1" font-size="14.4" text-anchor="start" font-weight="normal" font-style="normal" font-family='"Liberation Serif", serif' ><tspan font-style="italic">Porphyromonas pasteri</tspan></text>
<rect x="455" y="753.2" width="13" height="13" fill="#7b3214"/>
<text x="471.3" y="767.0" font-size="14.4" text-anchor="start" font-weight="normal" font-style="normal" font-family='"Liberation Serif", serif' >Unclassified</text>
<rect x="455" y="771.1" width="13" height="13" fill="#66a824"/>
<text x="471.3" y="784.9" font-size="14.4" text-anchor="start" font-weight="normal" font-style="normal" font-family='"Liberation Serif", serif' >F0058 unclassified</text>
<rect x="455" y="789.0" width="13" height="13" fill="#6b0dbf"/>
<text x="471.3" y="802.8" font-size="14.4" text-anchor="start" font-weight="normal" font-style="normal" font-family='"Liberation Serif", serif' ><tspan font-style="italic">Eisenbergiella massiliensis</tspan></text>
<rect x="455" y="806.9" width="13" height="13" fill="#e5308c"/>
<text x="471.3" y="820.7" font-size="14.4" text-anchor="start" font-weight="normal" font-style="normal" font-family='"Liberation Serif", serif' ><tspan font-style="italic">Halomonas</tspan> unclassified</text>
<rect x="455" y="824.8" width="13" height="13" fill="#e8a90b"/>
<text x="471.3" y="838.6" font-size="14.4" text-anchor="start" font-weight="normal" font-style="normal" font-family='"Liberation Serif", serif' ><tspan font-style="italic">Porphyromonas gingivalis</tspan></text>
<rect x="455" y="842.7" width="13" height="13" fill="#1b7bf0"/>
<text x="471.3" y="856.5" font-size="14.4" text-anchor="start" font-weight="normal" font-style="normal" font-family='"Liberation Serif", serif' ><tspan font-style="italic">Alloprevotella rava</tspan></text>
<rect x="455" y="860.6" width="13" height="13" fill="#ef420f"/>
<text x="471.3" y="874.4" font-size="14.4" text-anchor="start" font-weight="normal" font-style="normal" font-family='"Liberation Serif", serif' ><tspan font-style="italic">Oribacterium asaccharolyticum</tspan></text>
<rect x="455" y="878.5" width="13" height="13" fill="#a9741c"/>
<text x="471.3" y="892.3" font-size="14.4" text-anchor="start" font-weight="normal" font-style="normal" font-family='"Liberation Serif", serif' ><tspan font-style="italic">Oribacterium</tspan> unclassified</text>
<rect x="455" y="896.4" width="13" height="13" fill="#000000"/>
<text x="471.3" y="910.2" font-size="14.4" text-anchor="start" font-weight="normal" font-style="normal" font-family='"Liberation Serif", serif' >Other</text>
</svg></body></html>
